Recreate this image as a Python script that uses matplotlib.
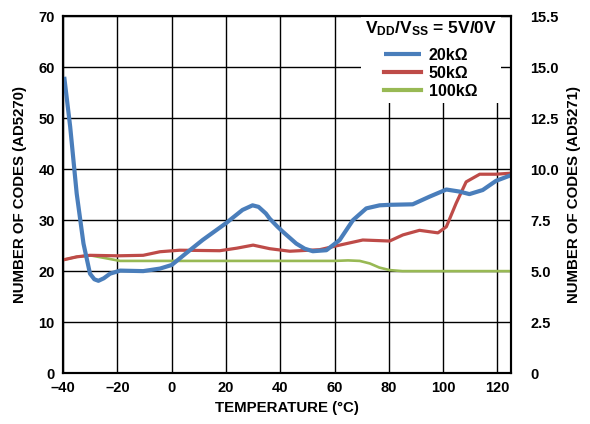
import matplotlib
matplotlib.use("Agg")
import matplotlib.pyplot as plt

plt.rcParams["font.family"] = ["Liberation Sans", "DejaVu Sans"]
plt.rcParams["font.weight"] = "bold"
plt.rcParams["mathtext.fontset"] = "custom"
plt.rcParams["mathtext.rm"] = "Liberation Sans:bold"
plt.rcParams["mathtext.bf"] = "Liberation Sans:bold"

# 20kΩ
temp_20k = [-39.6, -37.4, -35, -32.5, -30.1, -28.5, -27, -25, -22.7, -19, -10.5, -4.3, 0,
            5.3, 11.4, 20, 26.1, 29.8, 32, 34.7, 36.1, 39, 41, 45.9, 49, 52, 57, 61.9,
            66.8, 71.7, 76.6, 80.3, 88.8, 95, 101.2, 106, 109.7, 114.6, 119.5, 125]
codes_20k = [58.1, 48.3, 35.2, 25.4, 19.5, 18.4, 18.1, 18.6, 19.5, 20.1, 20.0, 20.5, 21.2,
             23.5, 26.1, 29.4, 32.0, 32.9, 32.6, 31.3, 30.3, 28.7, 27.7, 25.4, 24.4, 23.9, 24.1, 26.1,
             30.0, 32.3, 32.9, 33.0, 33.1, 34.6, 36.0, 35.6, 35.1, 35.9, 37.7, 38.8]

# 50kΩ
temp_50k = [-40, -35, -30.1, -20, -10.5, -4.3, 3.0, 17.7, 24, 30, 36.1, 43.5, 54.5, 61.9,
            70.4, 80.3, 85.2, 91.3, 98.1, 101.2, 104.8, 108.5, 113.5, 119.5, 125]
codes_50k = [22.2, 22.8, 23.1, 23.0, 23.1, 23.8, 24.1, 24.0, 24.5, 25.1, 24.4, 23.9, 24.2, 25.1,
             26.1, 25.9, 27.1, 28.0, 27.5, 28.7, 33.3, 37.5, 39.0, 39.0, 39.2]

# 100kΩ
temp_100k = [-40, -35, -30.1, -25, -19, 0, 20, 40, 60, 65, 69.3, 73, 76.5, 80.3, 85, 100, 125]
codes_100k = [22.2, 22.8, 23.1, 22.6, 22.0, 22.0, 22.0, 22.0, 22.0, 22.1, 22.0, 21.5, 20.7, 20.2,
              20.0, 20.0, 20.0]

x_ticks = [-40, -20, 0, 20, 40, 60, 80, 100, 120]
x_labels = ["–40", "–20", "0", "20", "40", "60", "80", "100", "120"]
y_ticks = [0, 10, 20, 30, 40, 50, 60, 70]
y2_labels = ["0", "2.5", "5.0", "7.5", "10.0", "12.5", "15.0", "15.5"]

fig = plt.figure(figsize=(5.9, 4.24), dpi=100)
ax = fig.add_axes([0.107, 0.120, 0.759, 0.842])

ax.plot(temp_20k, codes_20k, color="#4A7EBB", lw=3.0, label="20kΩ",
        solid_joinstyle="round", solid_capstyle="butt", zorder=5)
ax.plot(temp_50k, codes_50k, color="#BE4B48", lw=2.3, label="50kΩ",
        solid_joinstyle="round", zorder=4)
ax.plot(temp_100k, codes_100k, color="#98B954", lw=1.9, label="100kΩ",
        solid_joinstyle="round", zorder=3)

ax.set_xlim(-40, 125)
ax.set_ylim(0, 70)
ax.set_xticks(x_ticks)
ax.set_xticklabels(x_labels)
ax.set_yticks(y_ticks)
ax.grid(True, color="black", lw=1.0)
ax.tick_params(length=0, labelsize=10.5, pad=6)
for s in ax.spines.values():
    s.set_linewidth(1.5)
ax.set_xlabel("TEMPERATURE (°C)", fontsize=10.8, fontweight="bold", labelpad=4)
ax.set_ylabel("NUMBER OF CODES (AD5270)", fontsize=10.8, fontweight="bold", labelpad=8)

leg = ax.legend(loc="upper right", bbox_to_anchor=(0.995, 1.025), frameon=True,
                facecolor="white", edgecolor="none", framealpha=1.0, fancybox=False,
                title=r"$\mathregular{V_{DD}/V_{SS}}$ = 5V/0V",
                prop={"size": 11.5, "weight": "bold"},
                title_fontproperties={"size": 12.5, "weight": "bold"},
                handlelength=2.3, handletextpad=0.5, labelspacing=0.2, borderpad=0.25)
leg._legend_box.sep = 7  # extra gap under the title
leg.set_zorder(10)
for line in leg.get_lines():
    line.set_linewidth(3.0)

# right axis drawn on top, so its spines also redraw the frame over the legend
ax2 = ax.twinx()
ax2.set_ylim(0, 70)
ax2.set_yticks(y_ticks)
ax2.set_yticklabels(y2_labels)
ax2.tick_params(length=0, labelsize=10.5, pad=14)
ax2.set_ylabel("NUMBER OF CODES (AD5271)", fontsize=10.8, fontweight="bold", labelpad=6)
for s in ax2.spines.values():
    s.set_linewidth(1.5)

fig.savefig("out.png", dpi=100)
